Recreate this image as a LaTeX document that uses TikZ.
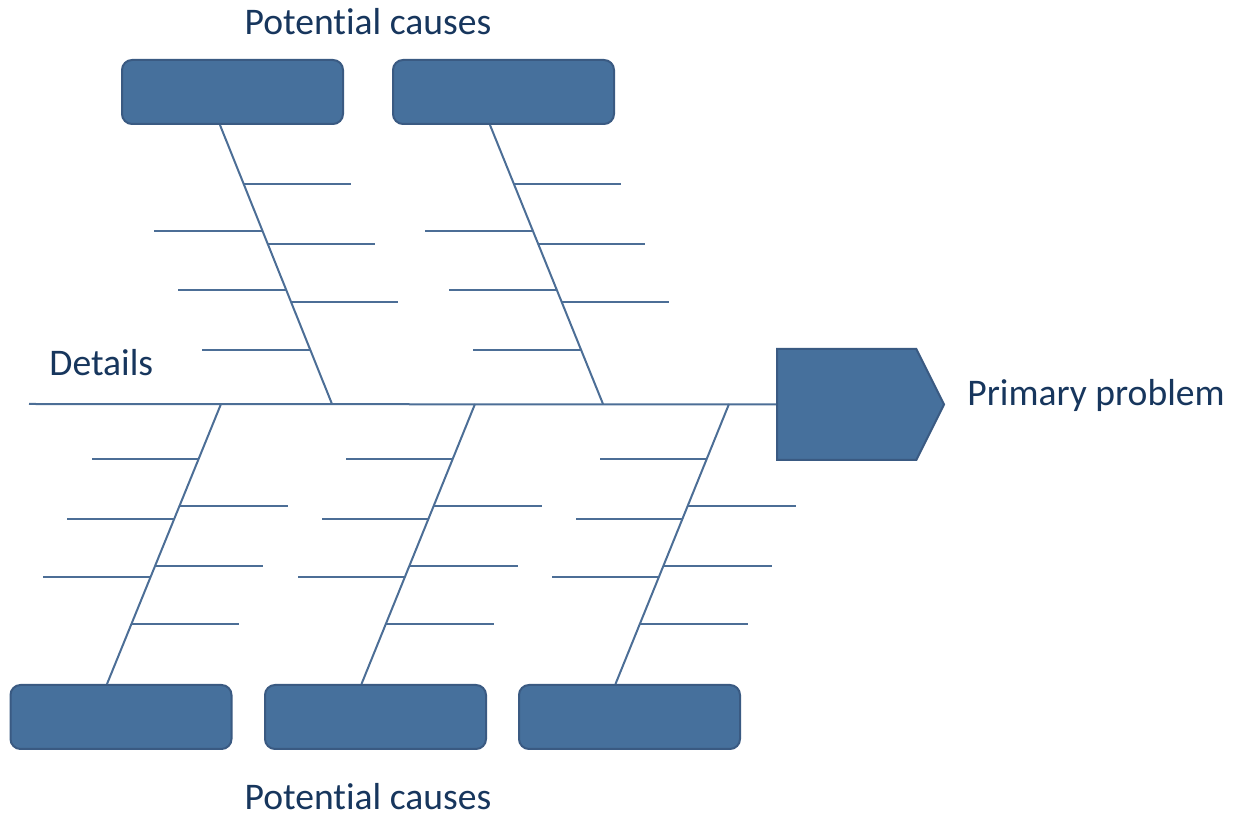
\documentclass[tikz,border=0pt]{standalone}
\usepackage{fontspec}
\setmainfont[Ligatures=NoCommon]{Carlito}
\usetikzlibrary{calc,shapes.symbols}
\definecolor{boxfill}{HTML}{46709C}
\definecolor{boxline}{HTML}{3A5A82}
\definecolor{boneline}{HTML}{4C6E96}
\definecolor{txt}{HTML}{17365D}
\begin{document}
\begin{tikzpicture}[x=0.5pt,y=-0.5pt,
  causebox/.style={draw=boxline,line width=1pt,fill=boxfill,rounded corners=5pt,
    minimum width=110.5pt,minimum height=32pt,inner sep=0pt},
  headbox/.style={signal,signal to=east,signal pointer angle=127,draw=boxline,line width=1pt,fill=boxfill,
    minimum width=83.5pt,minimum height=55.5pt,inner sep=0pt},
  bone/.style={draw=boneline,line width=1pt},
  label/.style={text=txt,font=\fontsize{18.8}{22}\selectfont,inner sep=0pt}]
\useasboundingbox (0,0) rectangle (1238,817);
% cause boxes
\node[causebox] (c1) at (232.5,92) {};
\node[causebox] (c2) at (503.5,92) {};
\node[causebox] (c3) at (121,717) {};
\node[causebox] (c4) at (375.5,717) {};
\node[causebox] (c5) at (629.5,717) {};
% head
\node[headbox,anchor=west] (head) at (776,404.5) {};
% spine
\coordinate (tail) at (29,404);
\draw[bone] (tail) -- (head.west);
% bone end points on spine
\coordinate (s1) at (332,404);
\coordinate (s2) at (603,404);
\coordinate (s3) at (221,404);
\coordinate (s4) at (475,404);
\coordinate (s5) at (729,404);
% top bones
\foreach \i/\dx in {1/-12.5,2/-13.5}{
  \coordinate (t\i) at ($(c\i.south)+(\dx,0)$);
  \draw[bone] (t\i) -- (s\i);
  \foreach \f in {0.2107,0.425,0.636}{
    \draw[bone] ($(t\i)!\f!(s\i)$) -- ++(107,0);
  }
  \foreach \f in {0.379,0.593,0.807}{
    \draw[bone] ($(t\i)!\f!(s\i)$) -- ++(-108,0);
  }
}
% bottom bones
\foreach \i in {3,4,5}{
  \coordinate (b\i) at ($(c\i.north)+(-14,0)$);
  \draw[bone] (s\i) -- (b\i);
  \foreach \f in {0.196,0.409,0.619}{
    \draw[bone] ($(s\i)!\f!(b\i)$) -- ++(-107,0);
  }
  \foreach \f in {0.363,0.577,0.786}{
    \draw[bone] ($(s\i)!\f!(b\i)$) -- ++(108,0);
  }
}
% labels
\node[label] (ltop) at (368,22) {Potential causes};
\node[label] (lbot) at (368,797) {Potential causes};
\node[label,anchor=west] (ldet) at (49,363) {Details};
\node[label,anchor=west] (lprob) at (967,395) {Primary problem};
\end{tikzpicture}
\end{document}
